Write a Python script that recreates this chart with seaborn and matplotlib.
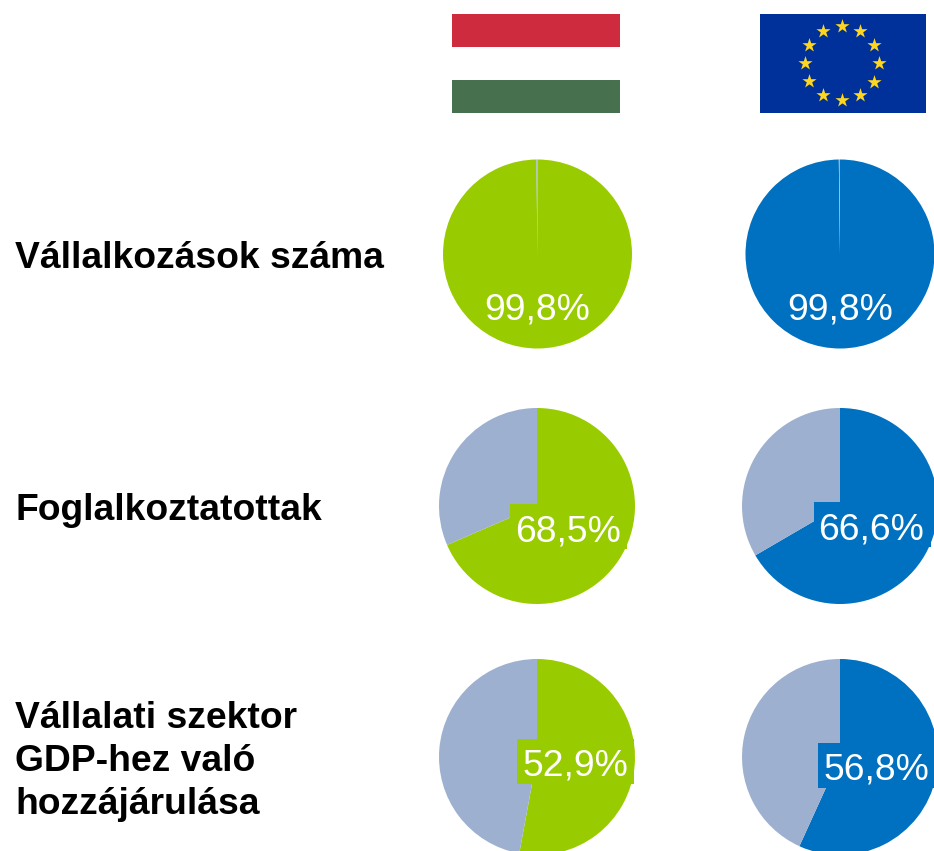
import matplotlib
matplotlib.use("Agg")
import matplotlib.pyplot as plt
from matplotlib.colors import ListedColormap
from matplotlib.patches import Rectangle
import numpy as np
import seaborn as sns

W, H = 934, 851

row_labels = ["Vállalkozások száma", "Foglalkoztatottak",
              "Vállalati szektor\nGDP-hez való\nhozzájárulása"]
hu_values = [99.8, 68.5, 52.9]
eu_values = [99.8, 66.6, 56.8]

hu_colors = ["#CE2B3E", "#FFFFFF", "#47704F"]
green = "#99CC00"
blue = "#0070C0"
grey = "#9EB0CF"

sns.set_theme(style="white")
plt.rcParams["font.family"] = ["Liberation Sans", "DejaVu Sans"]

fig = plt.figure(figsize=(W / 100, H / 100), dpi=100, facecolor="white")


def px_axes(x0, y0, x1, y1):
    # axes from pixel box, y measured from the top
    return fig.add_axes([x0 / W, 1 - y1 / H, (x1 - x0) / W, (y1 - y0) / H])


def draw_pie(cx, cy, r, value, color, tx, baseline, box=None):
    a = px_axes(cx - r, cy - r, cx + r, cy + r)
    a.pie([value, 100 - value], colors=[color, grey], startangle=90,
          counterclock=False, radius=1, wedgeprops={"linewidth": 0})
    a.set_xlim(-1, 1)
    a.set_ylim(-1, 1)
    if box is not None:
        # label background sits a bit off the text, so it is its own patch
        fig.add_artist(Rectangle((box[0] / W, 1 - box[3] / H), (box[2] - box[0]) / W, (box[3] - box[1]) / H,
                                 transform=fig.transFigure, facecolor=color, edgecolor="none", zorder=4))
    txt = f"{value:.1f}".replace(".", ",") + "%"
    fig.text(tx / W, 1 - baseline / H, txt, color="white", fontsize=26.8, ha="center", va="baseline", zorder=5)


# flags
a = px_axes(452, 14, 620, 113)
sns.heatmap(np.array([[0], [1], [2]]), cmap=ListedColormap(hu_colors), cbar=False,
            xticklabels=False, yticklabels=False, ax=a)

a = px_axes(760, 14, 926, 113)
a.set_facecolor("#00319A")
a.set_xlim(-83, 83)
a.set_ylim(-49.5, 49.5)
a.set_xticks([])
a.set_yticks([])
sns.despine(ax=a, left=True, bottom=True)
angles = np.arange(12) * np.pi / 6
a.scatter(37 * np.cos(angles) - 1.5, 37 * np.sin(angles) + 0.5, marker="*", s=115, color="#FFD61F", linewidths=0)

# pies
draw_pie(537.5, 254, 94.5, hu_values[0], green, 537.5, 320)
draw_pie(840, 254, 94.5, eu_values[0], blue, 840, 320)
draw_pie(537, 506, 98, hu_values[1], green, 568.5, 541.5, box=(510, 504, 627, 549))
draw_pie(840, 506, 98, eu_values[1], blue, 871.5, 540, box=(814, 502, 931, 547))
draw_pie(537, 757, 98, hu_values[2], green, 575.5, 775, box=(517, 739, 634, 784))
draw_pie(840, 757, 98, eu_values[2], blue, 876.5, 779, box=(818, 743, 935, 788))

# row labels
for label, y in zip(row_labels, [268, 520, 814]):
    fig.text(15 / W, 1 - y / H, label, fontsize=26.8, fontweight="bold", color="black",
             ha="left", va="baseline", linespacing=1.3)

fig.savefig("out.png", dpi=100)
